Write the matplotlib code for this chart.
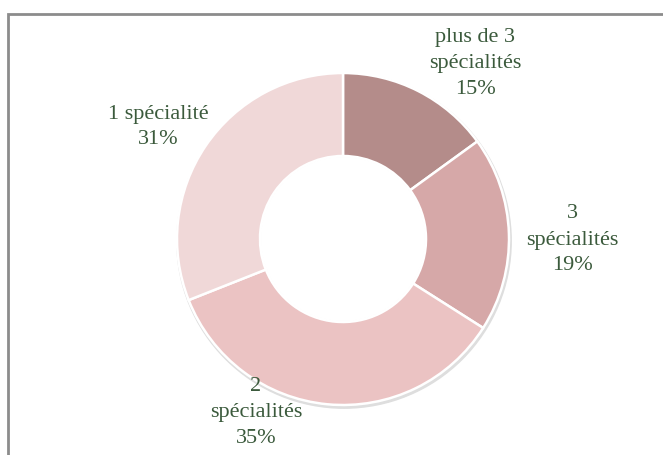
import matplotlib
matplotlib.use("Agg")
import matplotlib.pyplot as plt
from matplotlib.patches import Rectangle, Circle

# data
categories = ["plus de 3\nspécialités", "3\nspécialités", "2\nspécialités", "1 spécialité"]
shares = [15, 19, 35, 31]
colors = ["#b48c8a", "#d6a8a8", "#ebc3c3", "#f0d8d8"]

# label centres, offsets in px from the donut centre
label_offsets = [(132, 177), (229, 0), (-87, -173), (-185, 113)]

W, H = 663, 456
fig = plt.figure(figsize=(W / 100, H / 100), dpi=100)
ax = fig.add_axes([0, 0, 1, 1])

cx, cy, r = 343, H - 240, 166

# outer frame (only top and left visible)
ax.add_patch(Rectangle((8, -20), W + 40, H - 15 + 20, fill=False,
                       edgecolor="#8c8c8c", linewidth=2))

# faint shadow
ax.add_patch(Circle((cx + 1, cy - 2), r + 1.2, color="#dedede", zorder=1))

wedges, _ = ax.pie(shares, colors=colors, startangle=90, counterclock=False,
                   center=(cx, cy), radius=r, frame=True,
                   wedgeprops=dict(width=r * 0.5, edgecolor="white", linewidth=1.8))
for w in wedges:
    w.set_zorder(2)
ax.add_patch(Circle((cx, cy), r * 0.5 - 1, color="white", zorder=3))
ax.set_xlim(0, W)
ax.set_ylim(0, H)
ax.set_aspect("equal")
ax.axis("off")

for cat, val, (dx, dy) in zip(categories, shares, label_offsets):
    ax.text(cx + dx, cy + dy, f"{cat}\n{val}%", ha="center", va="center",
            fontsize=16, color="#3b5a3c", family="Liberation Serif",
            linespacing=1.5, zorder=5)

fig.savefig("out.png", dpi=100)
